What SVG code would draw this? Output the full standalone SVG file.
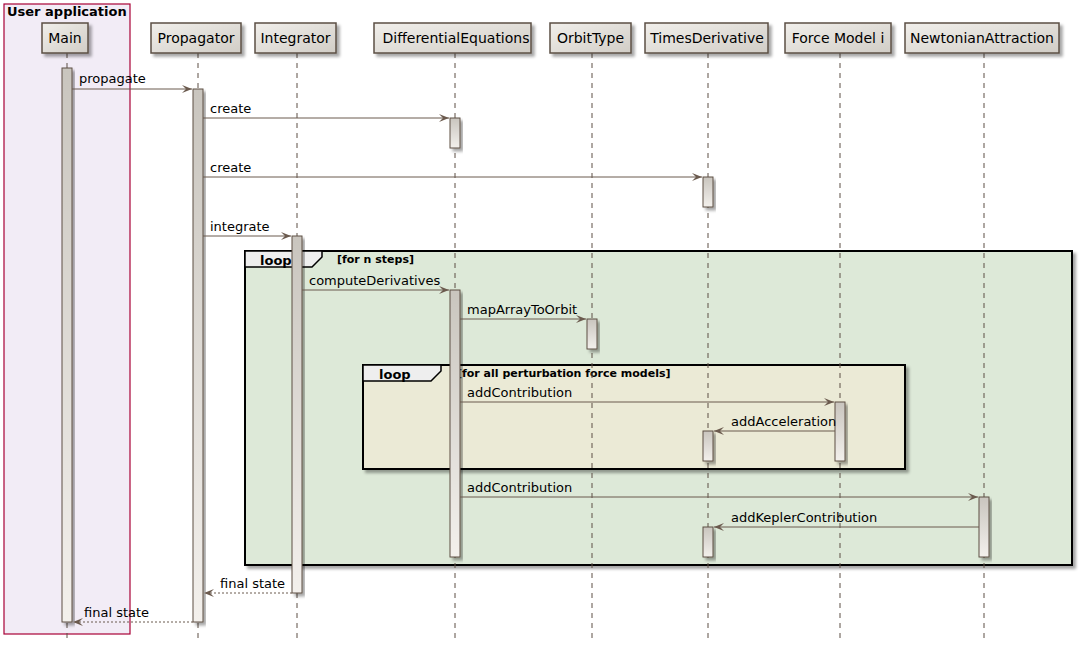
<svg xmlns="http://www.w3.org/2000/svg" width="1082" height="651" viewBox="0 0 1082 651">
<defs>
<linearGradient id="pg" x1="0" y1="0" x2="1" y2="1"><stop offset="0" stop-color="#F1EFEB"/><stop offset="1" stop-color="#D1CDC6"/></linearGradient>
<linearGradient id="ag" x1="0" y1="0" x2="0" y2="1"><stop offset="0" stop-color="#C9C5BE"/><stop offset="1" stop-color="#F3F0EC"/></linearGradient>
<filter id="sh" x="-20%" y="-20%" width="150%" height="150%"><feDropShadow dx="3" dy="3" stdDeviation="1.6" flood-color="#000" flood-opacity="0.35"/></filter>
<marker id="ah" viewBox="0 0 10 8" refX="10" refY="4" markerWidth="10" markerHeight="8" markerUnits="userSpaceOnUse" orient="auto"><polygon points="0,0 10,4 0,8 4,4" fill="#6B5A4E"/></marker>
</defs>
<style>
text{font-family:"DejaVu Sans","Liberation Sans",sans-serif;fill:#000}
.pn{font-size:14px;text-anchor:middle}
.lb{font-size:13px}
.pbox{fill:url(#pg);stroke:#5C4F44;stroke-width:1.5;filter:url(#sh)}
.life{stroke:#5C4F44;stroke-width:1;stroke-dasharray:5,5}
.act{fill:url(#ag);stroke:#5C4F44;stroke-width:1;filter:url(#sh)}
.msg{stroke:#6B5A4E;stroke-width:1;fill:none;marker-end:url(#ah)}
.ret{stroke:#6B5A4E;stroke-width:1;fill:none;stroke-dasharray:2,2;marker-end:url(#ah)}
.loopf{stroke:#000;stroke-width:2;filter:url(#sh)}
.tab{fill:#EEEEEE;stroke:#000;stroke-width:1.5}
.lt{font-size:13px;font-weight:bold}
.cond{font-size:11px;font-weight:bold}
</style>
<g id="box-user-application">
<rect x="4" y="4" width="126" height="630" fill="#F2ECF6" stroke="#A80036" stroke-width="1.2"/>
<text x="7" y="16" style="font-size:13px;font-weight:bold">User application</text>
</g>
<g id="loop-n-steps">
<rect class="loopf" x="245" y="251" width="827" height="314" fill="#DDE9D8"/>
<polygon class="tab" points="245,251 322,251 322,257 312,267 245,267"/>
<text class="lt" x="260" y="265">loop</text>
<text class="cond" x="337" y="263">[for n steps]</text>
</g>
<g id="loop-perturbation">
<rect class="loopf" x="363" y="365" width="542" height="104" fill="#EBEAD6"/>
<polygon class="tab" points="363,365 441,365 441,371 431,381 363,381"/>
<text class="lt" x="379" y="379">loop</text>
<text class="cond" x="457" y="377">[for all perturbation force models]</text>
</g>
<g id="lifelines">
<line class="life" x1="67" y1="53" x2="67" y2="640"/>
<line class="life" x1="198" y1="53" x2="198" y2="640"/>
<line class="life" x1="297" y1="53" x2="297" y2="640"/>
<line class="life" x1="455" y1="53" x2="455" y2="640"/>
<line class="life" x1="592" y1="53" x2="592" y2="640"/>
<line class="life" x1="708" y1="53" x2="708" y2="640"/>
<line class="life" x1="840" y1="53" x2="840" y2="640"/>
<line class="life" x1="984" y1="53" x2="984" y2="640"/>
</g>
<g id="node-main"><rect class="pbox" x="42" y="23" width="46" height="30"/><text class="pn" x="65" y="43">Main</text></g>
<g id="node-propagator"><rect class="pbox" x="151" y="23" width="90" height="30"/><text class="pn" x="196" y="43">Propagator</text></g>
<g id="node-integrator"><rect class="pbox" x="255" y="23" width="81" height="30"/><text class="pn" x="295.5" y="43">Integrator</text></g>
<g id="node-differentialequations"><rect class="pbox" x="374" y="23" width="157" height="30"/><text class="pn" x="456" y="43">DifferentialEquations</text></g>
<g id="node-orbittype"><rect class="pbox" x="550" y="23" width="81" height="30"/><text class="pn" x="590.5" y="43">OrbitType</text></g>
<g id="node-timesderivative"><rect class="pbox" x="645" y="23" width="123" height="30"/><text class="pn" x="707" y="43">TimesDerivative</text></g>
<g id="node-forcemodel"><rect class="pbox" x="785" y="23" width="106" height="30"/><text class="pn" x="838" y="43">Force Model i</text></g>
<g id="node-newtonianattraction"><rect class="pbox" x="905" y="23" width="154" height="30"/><text class="pn" x="982" y="43">NewtonianAttraction</text></g>
<g id="activations">
<rect class="act" x="62" y="68" width="10" height="554"/>
<rect class="act" x="193" y="89" width="10" height="533"/>
<rect class="act" x="450" y="118" width="10" height="30"/>
<rect class="act" x="703" y="177" width="10" height="30"/>
<rect class="act" x="292" y="236" width="10" height="357"/>
<rect class="act" x="450" y="290" width="10" height="267"/>
<rect class="act" x="587" y="319" width="10" height="30"/>
<rect class="act" x="835" y="402" width="10" height="59"/>
<rect class="act" x="703" y="431" width="10" height="30"/>
<rect class="act" x="979" y="497" width="10" height="60"/>
<rect class="act" x="703" y="527" width="10" height="30"/>
</g>
<g id="connectors">
<line class="msg" x1="72" y1="89" x2="192" y2="89"/><text class="lb" x="79" y="83">propagate</text>
<line class="msg" x1="203" y1="118" x2="449" y2="118"/><text class="lb" x="210" y="113">create</text>
<line class="msg" x1="203" y1="177" x2="702" y2="177"/><text class="lb" x="210" y="172">create</text>
<line class="msg" x1="203" y1="236" x2="291" y2="236"/><text class="lb" x="210" y="231">integrate</text>
<line class="msg" x1="302" y1="290" x2="449" y2="290"/><text class="lb" x="309" y="285">computeDerivatives</text>
<line class="msg" x1="460" y1="319" x2="586" y2="319"/><text class="lb" x="467" y="314">mapArrayToOrbit</text>
<line class="msg" x1="460" y1="402" x2="834" y2="402"/><text class="lb" x="467" y="397">addContribution</text>
<line class="msg" x1="835" y1="431" x2="714" y2="431"/><text class="lb" x="731" y="426">addAcceleration</text>
<line class="msg" x1="460" y1="497" x2="978" y2="497"/><text class="lb" x="467" y="492">addContribution</text>
<line class="msg" x1="979" y1="527" x2="714" y2="527"/><text class="lb" x="731" y="522">addKeplerContribution</text>
<line class="ret" x1="292" y1="593" x2="204" y2="593"/><text class="lb" x="220" y="588">final state</text>
<line class="ret" x1="193" y1="622" x2="73" y2="622"/><text class="lb" x="84" y="617">final state</text>
</g>
</svg>
